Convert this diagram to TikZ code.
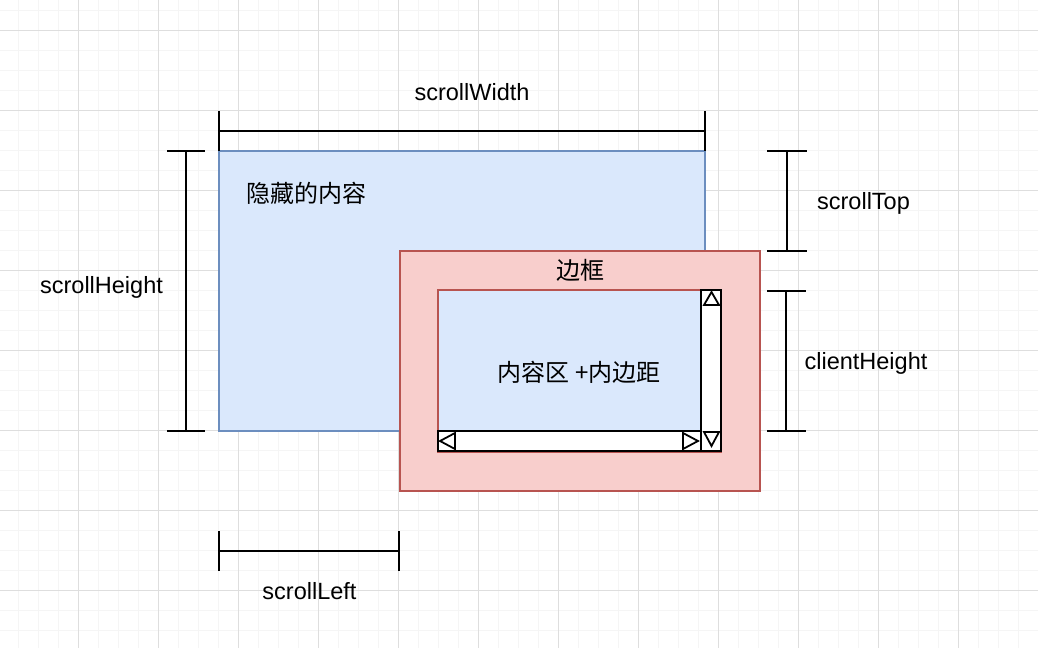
\documentclass[tikz,border=0pt]{standalone}
\usepackage{fontspec}
\setmainfont{Liberation Sans}
\newfontfamily\cjk{Noto Sans CJK SC}
\usetikzlibrary{fit}
\definecolor{gridminor}{RGB}{245,245,245}
\definecolor{gridmajor}{RGB}{222,222,222}
\definecolor{bluefill}{HTML}{DAE8FC}
\definecolor{bluestroke}{HTML}{6C8EBF}
\definecolor{redfill}{HTML}{F8CECC}
\definecolor{redstroke}{HTML}{B85450}
\tikzset{
  minorline/.style={gridminor, line width=1},
  majorline/.style={gridmajor, line width=1},
  dim/.style={black, line width=2.4},
  area/.style={inner sep=0, outer sep=0},
  lbl/.style={font=\fontsize{23.5}{28}\selectfont, anchor=base, inner sep=0},
  cjklbl/.style={font=\cjk\fontsize{24}{28}\selectfont, inner sep=0},
  bar/.style={area, draw=black, fill=white, line width=2.6},
  tri/.style={black, line width=1.8, line join=miter},
}
\begin{document}
\begin{tikzpicture}[x=1pt,y=-1pt]
\useasboundingbox (0,0) rectangle (1038,648);
\fill[white] (0,0) rectangle (1038,648);
% grid
\foreach \x in {18,38,...,1038} \draw[minorline] (\x,0) -- (\x,648);
\foreach \y in {10,30,...,648} \draw[minorline] (0,\y) -- (1038,\y);
\foreach \x in {78,158,...,1038} \draw[majorline] (\x,0) -- (\x,648);
\foreach \y in {30,110,...,648} \draw[majorline] (0,\y) -- (1038,\y);

% hidden content area
\node[area, fit={(219,151) (705,431)}, draw=bluestroke, fill=bluefill, line width=2] (hidden) {};
\node[cjklbl, anchor=west] (hiddenlbl) at (246,193) {隐藏的内容};

% scrollWidth
\coordinate (swL) at (219,131);
\coordinate (swR) at (705,131);
\draw[dim] (swL) -- (swR);
\draw[dim] (219,111) -- (219,151);
\draw[dim] (705,111) -- (705,151);
\node[lbl] (swlbl) at (472,100) {scrollWidth};

% scrollHeight
\coordinate (shT) at (186,151);
\coordinate (shB) at (186,431);
\draw[dim] (shT) -- (shB);
\draw[dim] (167,151) -- (205,151);
\draw[dim] (167,431) -- (205,431);
\node[lbl] (shlbl) at (101.5,293) {scrollHeight};

% scrollTop
\coordinate (stT) at (787,151);
\coordinate (stB) at (787,251);
\draw[dim] (stT) -- (stB);
\draw[dim] (767,151) -- (807,151);
\draw[dim] (767,251) -- (807,251);
\node[lbl] (stlbl) at (863.5,209) {scrollTop};

% clientHeight
\coordinate (chT) at (786,291);
\coordinate (chB) at (786,431);
\draw[dim] (chT) -- (chB);
\draw[dim] (767,291) -- (806,291);
\draw[dim] (767,431) -- (806,431);
\node[lbl] (chlbl) at (866,369) {clientHeight};

% scrollLeft
\coordinate (slL) at (219,551);
\coordinate (slR) at (399,551);
\draw[dim] (slL) -- (slR);
\draw[dim] (219,531) -- (219,571);
\draw[dim] (399,531) -- (399,571);
\node[lbl] (sllbl) at (309.5,599) {scrollLeft};

% border box
\node[area, fit={(400,251) (760,491)}, draw=redstroke, fill=redfill, line width=2] (border) {};
\node[cjklbl] (borderlbl) at (580,270) {边框};

% content + padding
\node[area, fit={(438,290) (721,452)}, draw=redstroke, fill=bluefill, line width=2] (content) {};
\node[cjklbl] (contentlbl) at (579,372) {内容区 +内边距};

% scrollbars
\node[bar, fit={(701,290) (721,451)}] (vbar) {};
\node[bar, fit={(438,431) (701,451)}] (hbar) {};

% arrows of the scrollbars
\draw[tri] (704,305) -- (711.5,292) -- (719,305) -- cycle;
\draw[tri] (704,432) -- (711.5,446) -- (719,432) -- cycle;
\draw[tri] (455,433) -- (440,441) -- (455,449) -- cycle;
\draw[tri] (683,433) -- (698,441) -- (683,449) -- cycle;
\end{tikzpicture}
\end{document}
